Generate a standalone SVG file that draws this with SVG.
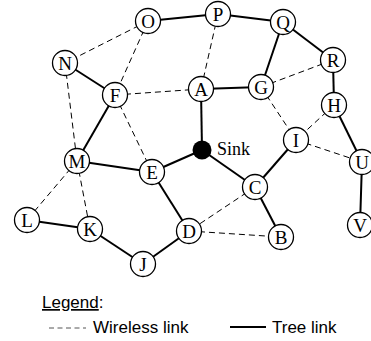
<svg xmlns="http://www.w3.org/2000/svg" width="371" height="341" viewBox="0 0 371 341">
<style>
.n circle{fill:#fff;stroke:#000;stroke-width:1.3}
.n text{font-family:"Liberation Serif",serif;font-size:19px;text-anchor:middle;fill:#000}
.t{stroke:#000;stroke-width:2;fill:none}
.w{stroke:#000;stroke-width:1;stroke-dasharray:6,4;fill:none}
.lg{font-family:"Liberation Sans",Arial,sans-serif;font-size:17px;fill:#000}
</style>
<rect width="371" height="341" fill="#fff"/>
<g id="connectors">
<line class="t" x1="148" y1="21" x2="218" y2="14"/>
<line class="t" x1="218" y1="14" x2="283" y2="22"/>
<line class="t" x1="283" y1="22" x2="261" y2="87"/>
<line class="t" x1="283" y1="22" x2="333" y2="60"/>
<line class="t" x1="333" y1="60" x2="334" y2="105"/>
<line class="t" x1="334" y1="105" x2="362" y2="162"/>
<line class="t" x1="362" y1="162" x2="360" y2="225"/>
<line class="t" x1="261" y1="87" x2="201" y2="89"/>
<line class="t" x1="201" y1="89" x2="202" y2="150"/>
<line class="t" x1="65" y1="63" x2="115" y2="95"/>
<line class="t" x1="115" y1="95" x2="77" y2="161"/>
<line class="t" x1="77" y1="161" x2="152" y2="172"/>
<line class="t" x1="152" y1="172" x2="202" y2="150"/>
<line class="t" x1="202" y1="150" x2="255" y2="187"/>
<line class="t" x1="255" y1="187" x2="296" y2="140"/>
<line class="t" x1="255" y1="187" x2="281" y2="237"/>
<line class="t" x1="152" y1="172" x2="189" y2="231"/>
<line class="t" x1="189" y1="231" x2="143" y2="264"/>
<line class="t" x1="143" y1="264" x2="90" y2="229"/>
<line class="t" x1="90" y1="229" x2="27" y2="220"/>
<line class="w" x1="148" y1="21" x2="65" y2="63"/>
<line class="w" x1="148" y1="21" x2="115" y2="95"/>
<line class="w" x1="218" y1="14" x2="201" y2="89"/>
<line class="w" x1="115" y1="95" x2="201" y2="89"/>
<line class="w" x1="115" y1="95" x2="152" y2="172"/>
<line class="w" x1="65" y1="63" x2="77" y2="161"/>
<line class="w" x1="77" y1="161" x2="27" y2="220"/>
<line class="w" x1="77" y1="161" x2="90" y2="229"/>
<line class="w" x1="261" y1="87" x2="333" y2="60"/>
<line class="w" x1="261" y1="87" x2="296" y2="140"/>
<line class="w" x1="334" y1="105" x2="296" y2="140"/>
<line class="w" x1="296" y1="140" x2="362" y2="162"/>
<line class="w" x1="255" y1="187" x2="189" y2="231"/>
<line class="w" x1="189" y1="231" x2="281" y2="237"/>
</g>
<g id="sink"><circle cx="202" cy="150" r="9.5" fill="#000"/><text x="217" y="155" style="font-family:'Liberation Serif',serif;font-size:18px">Sink</text></g>
<g id="O" class="n"><circle cx="148" cy="21" r="12.5"/><text x="148" y="27.5">O</text></g>
<g id="P" class="n"><circle cx="218" cy="14" r="12.5"/><text x="218" y="20.5">P</text></g>
<g id="Q" class="n"><circle cx="283" cy="22" r="12.5"/><text x="283" y="28.5">Q</text></g>
<g id="R" class="n"><circle cx="333" cy="60" r="12.5"/><text x="333" y="66.5">R</text></g>
<g id="N" class="n"><circle cx="65" cy="63" r="12.5"/><text x="65" y="69.5">N</text></g>
<g id="A" class="n"><circle cx="201" cy="89" r="12.5"/><text x="201" y="95.5">A</text></g>
<g id="G" class="n"><circle cx="261" cy="87" r="12.5"/><text x="261" y="93.5">G</text></g>
<g id="F" class="n"><circle cx="115" cy="95" r="12.5"/><text x="115" y="101.5">F</text></g>
<g id="H" class="n"><circle cx="334" cy="105" r="12.5"/><text x="334" y="111.5">H</text></g>
<g id="I" class="n"><circle cx="296" cy="140" r="12.5"/><text x="296" y="146.5">I</text></g>
<g id="M" class="n"><circle cx="77" cy="161" r="12.5"/><text x="77" y="167.5">M</text></g>
<g id="U" class="n"><circle cx="362" cy="162" r="12.5"/><text x="362" y="168.5">U</text></g>
<g id="E" class="n"><circle cx="152" cy="172" r="12.5"/><text x="152" y="178.5">E</text></g>
<g id="C" class="n"><circle cx="255" cy="187" r="12.5"/><text x="255" y="193.5">C</text></g>
<g id="L" class="n"><circle cx="27" cy="220" r="12.5"/><text x="27" y="226.5">L</text></g>
<g id="K" class="n"><circle cx="90" cy="229" r="12.5"/><text x="90" y="235.5">K</text></g>
<g id="D" class="n"><circle cx="189" cy="231" r="12.5"/><text x="189" y="237.5">D</text></g>
<g id="B" class="n"><circle cx="281" cy="237" r="12.5"/><text x="281" y="243.5">B</text></g>
<g id="V" class="n"><circle cx="360" cy="225" r="12.5"/><text x="360" y="231.5">V</text></g>
<g id="J" class="n"><circle cx="143" cy="264" r="12.5"/><text x="143" y="270.5">J</text></g>
<g id="legend">
<text class="lg" x="42" y="308"><tspan text-decoration="underline">Legend</tspan>:</text>
<line x1="49" y1="328" x2="86" y2="328" stroke="#555" stroke-width="1" stroke-dasharray="5,3.5"/>
<text class="lg" x="93" y="333">Wireless link</text>
<line x1="230" y1="327" x2="266" y2="327" stroke="#000" stroke-width="2"/>
<text class="lg" x="272" y="333">Tree link</text>
</g>
</svg>
